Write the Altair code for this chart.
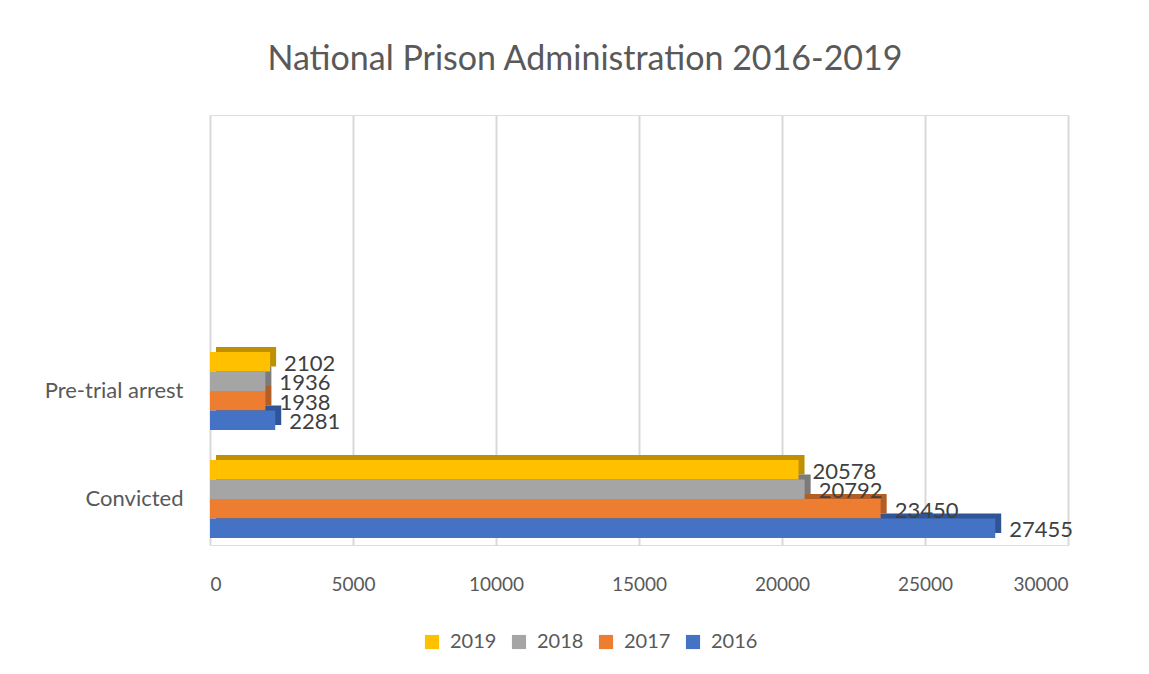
import altair as alt
import pandas as pd

categories = ["Convicted", "Pre-trial arrest"]
years = ["2019", "2018", "2017", "2016"]
v2019 = [20578, 2102]
v2018 = [20792, 1936]
v2017 = [23450, 1938]
v2016 = [27455, 2281]
colors = ["#FFC000", "#A5A5A5", "#ED7D31", "#4472C4"]
dark_colors = ["#BF9000", "#7B7B7B", "#B25E25", "#2F5597"]
x_ticks = [0, 5000, 10000, 15000, 20000, 25000, 30000]
y_domain = ["", " ", "Pre-trial arrest", "Convicted"]

rows = []
for yr, vals in zip(years, [v2019, v2018, v2017, v2016]):
    for cat, v in zip(categories, vals):
        rows.append({"category": cat, "year": yr, "value": v})
df = pd.DataFrame(rows)

FONT = "Lato"
H = 430
P_IN, P_OUT = 0.278, 0.13
step = H / (len(y_domain) - P_IN + 2 * P_OUT)
band = step * (1 - P_IN)
DEPTH_X, DEPTH_Y = 6, 5

x = alt.X("value:Q", scale=alt.Scale(domain=[0, 30000], nice=False),
          axis=alt.Axis(values=x_ticks, title=None, domain=False, ticks=False,
                        labelFontSize=19, labelColor="#595959", labelPadding=30,
                        labelFont=FONT, gridColor="#d9d9d9", gridWidth=2, format="d"))
y = alt.Y("category:N", scale=alt.Scale(domain=y_domain, paddingInner=P_IN,
                                         paddingOuter=P_OUT, align=0.75),
          axis=alt.Axis(title=None, domain=False, ticks=False, labelFontSize=22,
                        labelColor="#595959", labelPadding=27, labelFont=FONT, grid=False))
yoff = alt.YOffset("year:N", sort=years,
                   scale=alt.Scale(domain=years, range=[0, band]))
yoff_back = alt.YOffset("year:N", sort=years,
                        scale=alt.Scale(domain=years, range=[-DEPTH_Y, band - DEPTH_Y]))

base = alt.Chart(df)

back = base.mark_bar(xOffset=DEPTH_X).encode(
    x=x, y=y, yOffset=yoff_back,
    color=alt.Color("year:N", scale=alt.Scale(domain=years, range=dark_colors), legend=None),
)
front = base.mark_bar().encode(
    x=x, y=y, yOffset=yoff,
    color=alt.Color("year:N", scale=alt.Scale(domain=years, range=colors),
                    legend=alt.Legend(title=None, orient="none", legendX=212, legendY=517,
                                      direction="horizontal", symbolType="square",
                                      symbolSize=200, symbolStrokeWidth=0,
                                      labelFontSize=20, labelColor="#595959", labelFont=FONT,
                                      columnPadding=12, labelOffset=8)),
)
labels = base.mark_text(align="left", baseline="middle", dx=14, dy=2, fontSize=22,
                        color="#404040", font=FONT).encode(
    x=x, y=y, yOffset=yoff, text=alt.Text("value:Q", format="d"),
)

chart = alt.layer(back, front, labels).resolve_scale(
    color="independent", yOffset="independent"
).properties(
    width=858, height=H,
    autosize=alt.AutoSizeParams(type="none"),
    padding={"left": 202, "top": 107, "right": 73, "bottom": 121},
    title=alt.TitleParams("National Prison Administration 2016-2019", fontSize=34,
                          font=FONT, fontWeight="normal", color="#595959",
                          anchor="middle", frame="group", dx=-54, offset=38),
).configure_view(stroke=None).configure(background="white")

chart.save("out.html", embed_options={"renderer": "svg", "actions": False})
